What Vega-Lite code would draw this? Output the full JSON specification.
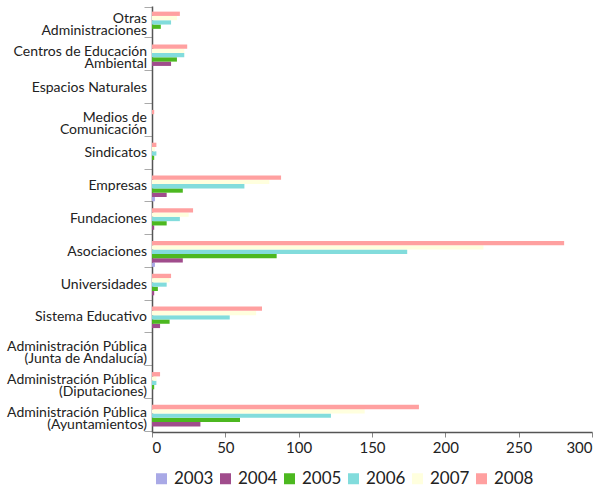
{
  "$schema": "https://vega.github.io/schema/vega-lite/v6.json",
  "width": 440,
  "height": 426,
  "autosize": {"type": "none"},
  "padding": {"left": 152, "top": 6, "right": 10, "bottom": 58},
  "background": "white",
  "config": {
    "view": {"stroke": null},
    "font": "Lato",
    "axis": {"labelFont": "Lato", "labelColor": "#222"},
    "legend": {"labelFont": "Lato"}
  },
  "data": {
    "values": [
      {"cat": "Otras|Administraciones", "year": "2003", "value": 0},
      {"cat": "Otras|Administraciones", "year": "2004", "value": 0},
      {"cat": "Otras|Administraciones", "year": "2005", "value": 6},
      {"cat": "Otras|Administraciones", "year": "2006", "value": 13},
      {"cat": "Otras|Administraciones", "year": "2007", "value": 17},
      {"cat": "Otras|Administraciones", "year": "2008", "value": 19},
      {"cat": "Centros de Educación|Ambiental", "year": "2003", "value": 0},
      {"cat": "Centros de Educación|Ambiental", "year": "2004", "value": 13},
      {"cat": "Centros de Educación|Ambiental", "year": "2005", "value": 17},
      {"cat": "Centros de Educación|Ambiental", "year": "2006", "value": 22},
      {"cat": "Centros de Educación|Ambiental", "year": "2007", "value": 22},
      {"cat": "Centros de Educación|Ambiental", "year": "2008", "value": 24},
      {"cat": "Espacios Naturales", "year": "2003", "value": 0},
      {"cat": "Espacios Naturales", "year": "2004", "value": 0},
      {"cat": "Espacios Naturales", "year": "2005", "value": 0},
      {"cat": "Espacios Naturales", "year": "2006", "value": 0},
      {"cat": "Espacios Naturales", "year": "2007", "value": 0},
      {"cat": "Espacios Naturales", "year": "2008", "value": 0},
      {"cat": "Medios de|Comunicación", "year": "2003", "value": 0},
      {"cat": "Medios de|Comunicación", "year": "2004", "value": 0},
      {"cat": "Medios de|Comunicación", "year": "2005", "value": 0},
      {"cat": "Medios de|Comunicación", "year": "2006", "value": 0},
      {"cat": "Medios de|Comunicación", "year": "2007", "value": 0},
      {"cat": "Medios de|Comunicación", "year": "2008", "value": 1.5},
      {"cat": "Sindicatos", "year": "2003", "value": 0},
      {"cat": "Sindicatos", "year": "2004", "value": 0},
      {"cat": "Sindicatos", "year": "2005", "value": 1.5},
      {"cat": "Sindicatos", "year": "2006", "value": 3},
      {"cat": "Sindicatos", "year": "2007", "value": 2},
      {"cat": "Sindicatos", "year": "2008", "value": 3},
      {"cat": "Empresas", "year": "2003", "value": 2},
      {"cat": "Empresas", "year": "2004", "value": 10},
      {"cat": "Empresas", "year": "2005", "value": 21},
      {"cat": "Empresas", "year": "2006", "value": 63},
      {"cat": "Empresas", "year": "2007", "value": 80},
      {"cat": "Empresas", "year": "2008", "value": 88},
      {"cat": "Fundaciones", "year": "2003", "value": 0},
      {"cat": "Fundaciones", "year": "2004", "value": 1.5},
      {"cat": "Fundaciones", "year": "2005", "value": 10},
      {"cat": "Fundaciones", "year": "2006", "value": 19},
      {"cat": "Fundaciones", "year": "2007", "value": 25},
      {"cat": "Fundaciones", "year": "2008", "value": 28},
      {"cat": "Asociaciones", "year": "2003", "value": 2},
      {"cat": "Asociaciones", "year": "2004", "value": 21},
      {"cat": "Asociaciones", "year": "2005", "value": 85},
      {"cat": "Asociaciones", "year": "2006", "value": 174},
      {"cat": "Asociaciones", "year": "2007", "value": 226},
      {"cat": "Asociaciones", "year": "2008", "value": 281},
      {"cat": "Universidades", "year": "2003", "value": 0},
      {"cat": "Universidades", "year": "2004", "value": 1.5},
      {"cat": "Universidades", "year": "2005", "value": 4},
      {"cat": "Universidades", "year": "2006", "value": 10},
      {"cat": "Universidades", "year": "2007", "value": 12},
      {"cat": "Universidades", "year": "2008", "value": 13},
      {"cat": "Sistema Educativo", "year": "2003", "value": 0},
      {"cat": "Sistema Educativo", "year": "2004", "value": 5.5},
      {"cat": "Sistema Educativo", "year": "2005", "value": 12},
      {"cat": "Sistema Educativo", "year": "2006", "value": 53},
      {"cat": "Sistema Educativo", "year": "2007", "value": 71},
      {"cat": "Sistema Educativo", "year": "2008", "value": 75},
      {"cat": "Administración Pública|(Junta de Andalucía)", "year": "2003", "value": 0},
      {"cat": "Administración Pública|(Junta de Andalucía)", "year": "2004", "value": 0},
      {"cat": "Administración Pública|(Junta de Andalucía)", "year": "2005", "value": 0},
      {"cat": "Administración Pública|(Junta de Andalucía)", "year": "2006", "value": 0},
      {"cat": "Administración Pública|(Junta de Andalucía)", "year": "2007", "value": 0},
      {"cat": "Administración Pública|(Junta de Andalucía)", "year": "2008", "value": 0},
      {"cat": "Administración Pública|(Diputaciones)", "year": "2003", "value": 0},
      {"cat": "Administración Pública|(Diputaciones)", "year": "2004", "value": 0},
      {"cat": "Administración Pública|(Diputaciones)", "year": "2005", "value": 1.5},
      {"cat": "Administración Pública|(Diputaciones)", "year": "2006", "value": 3},
      {"cat": "Administración Pública|(Diputaciones)", "year": "2007", "value": 3},
      {"cat": "Administración Pública|(Diputaciones)", "year": "2008", "value": 5.5},
      {"cat": "Administración Pública|(Ayuntamientos)", "year": "2003", "value": 0},
      {"cat": "Administración Pública|(Ayuntamientos)", "year": "2004", "value": 33},
      {"cat": "Administración Pública|(Ayuntamientos)", "year": "2005", "value": 60},
      {"cat": "Administración Pública|(Ayuntamientos)", "year": "2006", "value": 122},
      {"cat": "Administración Pública|(Ayuntamientos)", "year": "2007", "value": 145},
      {"cat": "Administración Pública|(Ayuntamientos)", "year": "2008", "value": 182}
    ]
  },
  "encoding": {
    "y": {
      "field": "cat",
      "type": "nominal",
      "sort": null,
      "scale": {"paddingInner": 0.08, "paddingOuter": 0.04},
      "axis": {
        "title": null,
        "labels": false,
        "tickSize": 8,
        "tickColor": "#aaa",
        "tickBand": "extent",
        "domainColor": "#555",
        "domainWidth": 1.5
      }
    }
  },
  "layer": [
    {
      "mark": {"type": "bar"},
      "encoding": {
        "yOffset": {
          "field": "year",
          "type": "nominal",
          "scale": {
            "domain": ["gap", "2008", "2007", "2006", "2005", "2004", "2003"],
            "paddingInner": 0,
            "paddingOuter": 0
          }
        },
        "x": {
          "field": "value",
          "type": "quantitative",
          "scale": {"domain": [0, 300], "nice": false},
          "axis": {
            "title": null,
            "values": [0, 50, 100, 150, 200, 250, 300],
            "grid": false,
            "labelFontSize": 15,
            "labelColor": "#222",
            "tickSize": 5,
            "tickColor": "#888",
            "domainColor": "#555",
            "domainWidth": 1.5,
            "labelPadding": 3
          }
        },
        "color": {
          "field": "year",
          "type": "nominal",
          "scale": {
            "domain": ["2003", "2004", "2005", "2006", "2007", "2008"],
            "range": ["#a9a9e6", "#a04c8c", "#4cb820", "#82dcdc", "#ffffde", "#ffa0a0"]
          },
          "legend": {
            "title": null,
            "orient": "none",
            "direction": "horizontal",
            "columns": 6,
            "legendX": 1,
            "legendY": 464,
            "symbolType": "square",
            "symbolSize": 121,
            "symbolStrokeWidth": 0,
            "labelFontSize": 17,
            "labelColor": "#222",
            "labelOffset": 4,
            "columnPadding": 3
          }
        }
      }
    },
    {
      "transform": [
        {"filter": "datum.year == '2008' && indexof(datum.cat, '|') < 0"}
      ],
      "mark": {"type": "text", "align": "right", "baseline": "middle", "dx": -5, "fontSize": 14, "font": "Lato", "color": "#222"},
      "encoding": {
        "x": {"datum": 0, "type": "quantitative"},
        "text": {"field": "cat"}
      }
    },
    {
      "transform": [
        {"filter": "datum.year == '2008' && indexof(datum.cat, '|') >= 0"}
      ],
      "mark": {"type": "text", "align": "right", "baseline": "middle", "dx": -5, "dy": -3, "lineBreak": "|", "lineHeight": 12, "fontSize": 14, "font": "Lato", "color": "#222"},
      "encoding": {
        "x": {"datum": 0, "type": "quantitative"},
        "text": {"field": "cat"}
      }
    }
  ]
}
